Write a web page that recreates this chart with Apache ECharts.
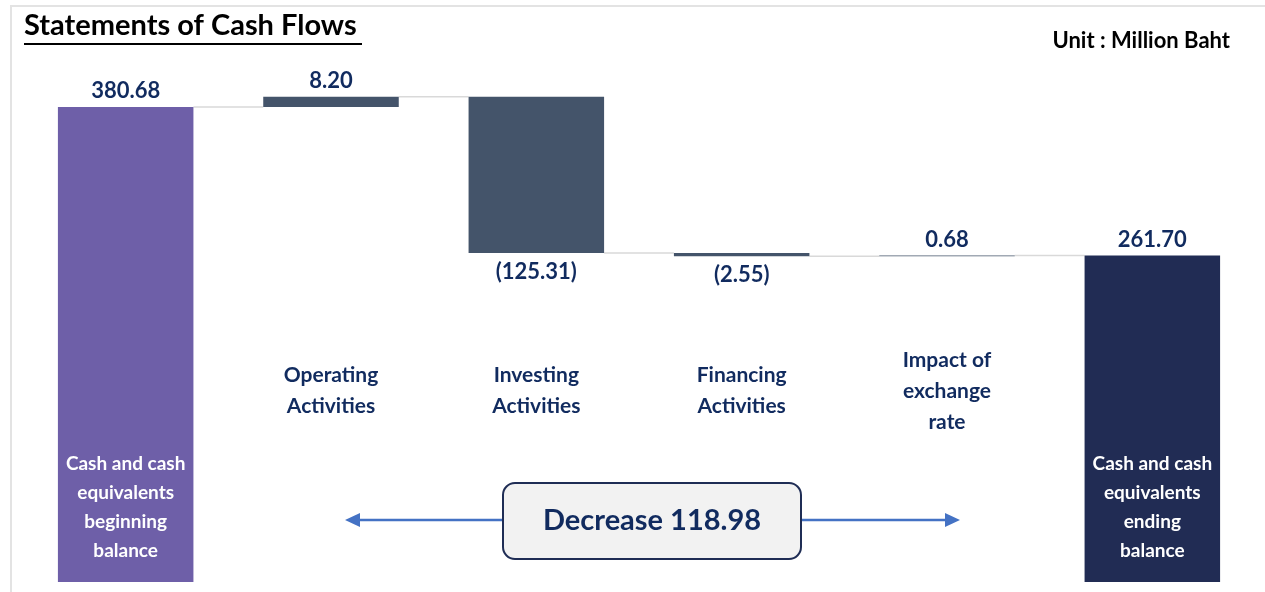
<!DOCTYPE html>
<html>
<head>
<meta charset="utf-8">
<script src="https://cdn.jsdelivr.net/npm/echarts@6/dist/echarts.min.js"></script>
<style>
  html, body { margin: 0; padding: 0; background: #fff; }
  #main { width: 1265px; height: 592px; }
</style>
</head>
<body>
<div id="main"></div>
<script>
// data (million baht)
const categories = [
  "Cash and cash\nequivalents\nbeginning\nbalance",
  "Operating\nActivities",
  "Investing\nActivities",
  "Financing\nActivities",
  "Impact of\nexchange\nrate",
  "Cash and cash\nequivalents\nending\nbalance"
];
const beginningBalance = 380.68;
const flows = [8.2, -125.31, -2.55, 0.68];
const endingBalance = 261.7;

const navy = "#112B5F";
const barColors = ["#6E5FA8", "#44546A", "#44546A", "#44546A", "#44546A", "#212C54"];
const font = "Lato";

// build the waterfall (transparent base + visible part)
const signed = [beginningBalance].concat(flows, [endingBalance]);
const base = [0];
const heights = [beginningBalance];
const levels = [beginningBalance]; // running total after each bar
let run = beginningBalance;
flows.forEach((f) => {
  const next = run + f;
  base.push(Math.min(run, next));
  heights.push(Math.abs(f));
  run = next;
  levels.push(run);
});
base.push(0);
heights.push(endingBalance);

const fmt = (v) => (v < 0 ? "(" + Math.abs(v).toFixed(2) + ")" : v.toFixed(2));
const change = endingBalance - beginningBalance;

const BAR_RATIO = 0.66;

const chartDom = document.getElementById("main");
const myChart = echarts.init(chartDom);

const option = {
  animation: false,
  backgroundColor: "#fff",
  grid: { left: 23, right: 10, top: 20.5, bottom: 10 },
  xAxis: [
    {
      type: "category",
      data: categories,
      z: 10,
      axisLine: { show: false },
      axisTick: { show: false },
      axisLabel: {
        inside: true,
        interval: 0,
        margin: 75,
        verticalAlign: "middle",
        color: "#fff",
        fontFamily: font,
        fontWeight: "bold",
        fontSize: 19,
        lineHeight: 29,
        formatter: (v, i) => (i === 0 || i === categories.length - 1 ? v : "")
      }
    },
    {
      type: "category",
      data: categories,
      position: "bottom",
      axisLine: { show: false },
      axisTick: { show: false },
      axisLabel: {
        inside: true,
        interval: 0,
        margin: 191,
        verticalAlign: "middle",
        color: navy,
        fontFamily: font,
        fontWeight: "bold",
        fontSize: 21,
        lineHeight: 31,
        formatter: (v, i) => (i === 0 || i === categories.length - 1 ? "" : v)
      }
    }
  ],
  yAxis: { type: "value", min: 0, max: 450, show: false },
  series: [
    {
      type: "custom",
      z: 1,
      data: levels.map((l, i) => [i, l]),
      renderItem: (params, api) => {
        const i = api.value(0);
        const l = api.value(1);
        const p1 = api.coord([i, l]);
        const p2 = api.coord([i + 1, l]);
        const half = (api.size([1, 0])[0] * BAR_RATIO) / 2;
        return {
          type: "line",
          shape: { x1: p1[0] + half, y1: p1[1], x2: p2[0] - half, y2: p2[1] },
          style: { stroke: "#D9D9D9", lineWidth: 1.5 }
        };
      }
    },
    {
      type: "bar",
      stack: "wf",
      barWidth: BAR_RATIO * 100 + "%",
      itemStyle: { color: "transparent" },
      emphasis: { disabled: true },
      data: base
    },
    {
      type: "bar",
      stack: "wf",
      z: 3,
      data: heights.map((h, i) => ({
        value: h,
        itemStyle: { color: barColors[i] },
        label: {
          position: signed[i] < 0 ? "bottom" : "top",
          distance: signed[i] < 0 ? 8 : 5
        }
      })),
      label: {
        show: true,
        color: navy,
        fontFamily: font,
        fontWeight: "bold",
        fontSize: 22,
        formatter: (p) => fmt(signed[p.dataIndex])
      }
    }
  ],
  graphic: [
    // frame
    { type: "line", shape: { x1: 10, y1: 6, x2: 1265, y2: 6 }, style: { stroke: "#E3E3E3", lineWidth: 2 } },
    { type: "line", shape: { x1: 11, y1: 6, x2: 11, y2: 592 }, style: { stroke: "#E3E3E3", lineWidth: 2 } },
    // title
    {
      type: "text", left: 24, top: 11,
      style: { text: "Statements of Cash Flows", fill: "#000", font: "bold 29px " + font }
    },
    { type: "line", shape: { x1: 24, y1: 44, x2: 362, y2: 44 }, style: { stroke: "#000", lineWidth: 2 } },
    {
      type: "text", right: 35, top: 30,
      style: { text: "Unit : Million Baht", fill: "#000", font: "bold 22px " + font }
    },
    // arrows
    { type: "line", shape: { x1: 503, y1: 520, x2: 355, y2: 520 }, style: { stroke: "#4472C4", lineWidth: 2.5 } },
    { type: "polygon", shape: { points: [[345, 520], [360, 513], [360, 527]] }, style: { fill: "#4472C4" } },
    { type: "line", shape: { x1: 801, y1: 520, x2: 950, y2: 520 }, style: { stroke: "#4472C4", lineWidth: 2.5 } },
    { type: "polygon", shape: { points: [[960, 520], [945, 513], [945, 527]] }, style: { fill: "#4472C4" } },
    // decrease box
    {
      type: "rect", z: 10,
      shape: { x: 503, y: 483, width: 298, height: 76, r: 12 },
      style: { fill: "#F2F2F2", stroke: "#1F2D55", lineWidth: 2 }
    },
    {
      type: "text", z: 11, x: 652, y: 521,
      style: {
        text: (change < 0 ? "Decrease " : "Increase ") + Math.abs(change).toFixed(2),
        fill: navy, font: "bold 29px " + font, align: "center", verticalAlign: "middle"
      }
    }
  ]
};

option && myChart.setOption(option);
</script>
</body>
</html>
